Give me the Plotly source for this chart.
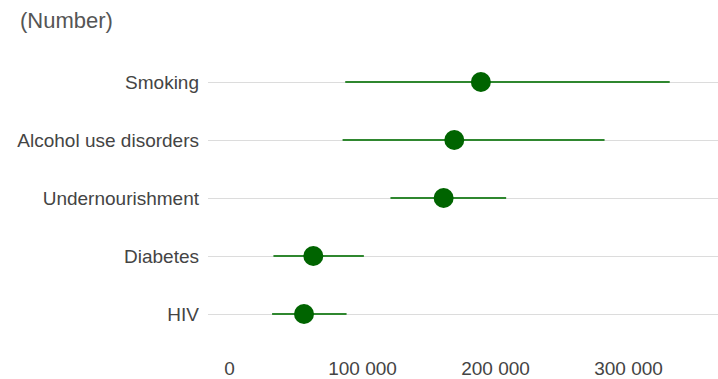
import plotly.graph_objects as go

# Risk factors, point estimates and uncertainty bounds
factors = ["Smoking", "Alcohol use disorders", "Undernourishment", "Diabetes", "HIV"]
estimate = [189000, 169000, 161000, 63000, 56000]
lower = [87000, 85000, 121000, 33000, 32000]
upper = [331000, 282000, 208000, 101000, 88000]

tick_vals = [0, 100000, 200000, 300000]

err_plus = [u - e for u, e in zip(upper, estimate)]
err_minus = [e - l for e, l in zip(estimate, lower)]

fig = go.Figure()
fig.add_trace(go.Scatter(
    x=estimate,
    y=factors,
    mode="markers",
    marker=dict(size=20, color="#006400"),
    error_x=dict(
        type="data",
        symmetric=False,
        array=err_plus,
        arrayminus=err_minus,
        color="#2f872f",
        thickness=2,
        width=0,
    ),
    hoverinfo="x+y",
    showlegend=False,
))

fig.update_layout(
    width=718,
    height=379,
    margin=dict(l=208, r=0, t=53, b=34),
    plot_bgcolor="white",
    paper_bgcolor="white",
    font=dict(family="Liberation Sans, Arial, sans-serif", size=19, color="#444"),
    separators=", ",
    xaxis=dict(
        range=[-16200, 367300],
        tickvals=tick_vals,
        tickformat=",d",
        showgrid=False,
        zeroline=False,
        showline=False,
        ticklabelstandoff=12,
        tickfont=dict(size=19, color="#444"),
    ),
    yaxis=dict(
        type="category",
        categoryorder="array",
        categoryarray=factors[::-1],
        range=[-0.5, 4.5],
        showgrid=True,
        gridcolor="#dcdcdc",
        gridwidth=1,
        zeroline=False,
        showline=False,
        ticklabelstandoff=8,
        tickfont=dict(size=19, color="#444"),
    ),
    annotations=[dict(
        text="(Number)",
        xref="paper", yref="paper",
        x=(18 - 208) / 510, y=1 + (53 - 20) / 292,
        xanchor="left", yanchor="middle",
        showarrow=False,
        font=dict(size=22, color="#555"),
    )],
)

fig.write_html("out.html")
